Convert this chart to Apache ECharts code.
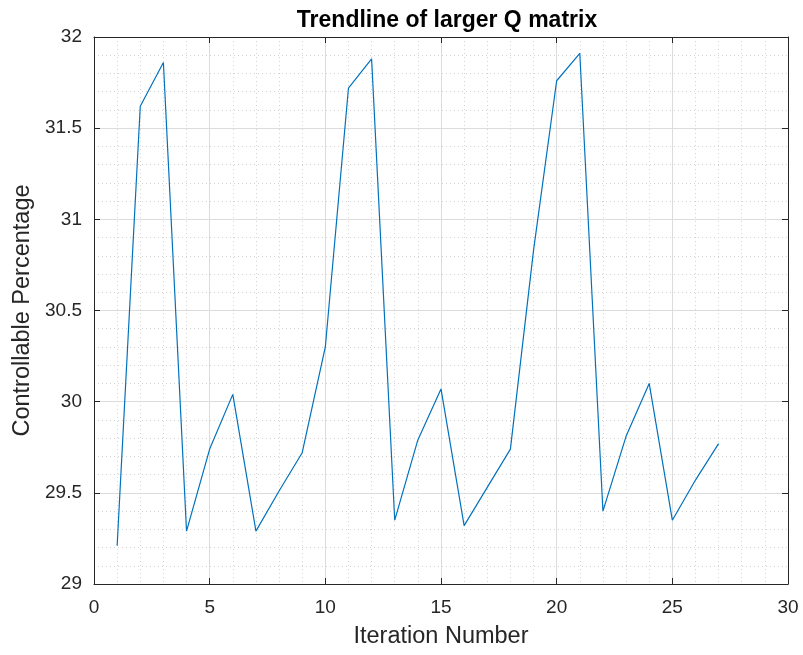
<!DOCTYPE html>
<html>
<head>
<meta charset="utf-8">
<script src="https://cdn.jsdelivr.net/npm/echarts@6/dist/echarts.min.js"></script>
<style>
  html, body { margin: 0; padding: 0; background: #fff; }
  #chart { width: 803px; height: 655px; }
</style>
</head>
<body>
<div id="chart"></div>
<script>
// Iteration numbers and the controllable percentage measured at each step
const iterations = [1, 2, 3, 4, 5, 6, 7, 8, 9, 10, 11, 12, 13, 14, 15, 16, 17, 18, 19, 20, 21, 22, 23, 24, 25, 26, 27];
const controllable = [29.21, 31.62, 31.86, 29.29, 29.74, 30.04, 29.29, 29.51, 29.72, 30.30,
                      31.72, 31.88, 29.35, 29.79, 30.07, 29.32, 29.53, 29.74, 30.83, 31.76,
                      31.91, 29.40, 29.81, 30.10, 29.35, 29.57, 29.77];

const chartTitle = 'Trendline of larger Q matrix';
const xName = 'Iteration Number';
const yName = 'Controllable Percentage';

const FONT = '"Liberation Sans", Arial, Helvetica, sans-serif';
const AXIS_COLOR = '#262626';

const points = iterations.map((it, i) => [it, controllable[i]]);

const chart = echarts.init(document.getElementById('chart'), null, { renderer: 'canvas' });

const baseX = {
  type: 'value', min: 0, max: 30, interval: 5,
  axisLine: { show: true, onZero: false, lineStyle: { color: AXIS_COLOR, width: 1 } },
  axisTick: { show: true, inside: true, length: 6, lineStyle: { color: AXIS_COLOR } },
};
const baseY = {
  type: 'value', min: 29, max: 32, interval: 0.5,
  axisLine: { show: true, onZero: false, lineStyle: { color: AXIS_COLOR, width: 1 } },
  axisTick: { show: true, inside: true, length: 6, lineStyle: { color: AXIS_COLOR } },
};

chart.setOption({
  animation: false,
  backgroundColor: '#ffffff',
  title: {
    text: chartTitle,
    left: 442, top: 4, textAlign: 'center',
    textStyle: { fontFamily: FONT, fontSize: 23, fontWeight: 'bold', color: '#000' }
  },
  grid: { left: 94, right: 15, top: 37, bottom: 71, containLabel: false },
  xAxis: [
    Object.assign({}, baseX, {
      position: 'bottom',
      name: xName, nameLocation: 'middle', nameGap: 41,
      nameTextStyle: { fontFamily: FONT, fontSize: 23.5, color: AXIS_COLOR },
      axisLabel: { fontFamily: FONT, fontSize: 19, color: AXIS_COLOR, margin: 14 },
      splitLine: { show: true, lineStyle: { color: '#dcdcdc', width: 1 } },
      minorTick: { show: false, splitNumber: 5 },
      minorSplitLine: { show: true, lineStyle: { color: '#d4d4d4', width: 1, type: [1, 3] } }
    }),
    Object.assign({}, baseX, {
      position: 'top',
      axisLabel: { show: false },
      splitLine: { show: false }
    })
  ],
  yAxis: [
    Object.assign({}, baseY, {
      position: 'left',
      name: yName, nameLocation: 'middle', nameGap: 59,
      nameTextStyle: { fontFamily: FONT, fontSize: 23.5, color: AXIS_COLOR },
      axisLabel: {
        fontFamily: FONT, fontSize: 19, color: AXIS_COLOR, margin: 12,
        formatter: v => String(Math.round(v * 10) / 10)
      },
      splitLine: { show: true, lineStyle: { color: '#dcdcdc', width: 1 } },
      minorTick: { show: false, splitNumber: 5 },
      minorSplitLine: { show: true, lineStyle: { color: '#d4d4d4', width: 1, type: [1, 3] } }
    }),
    Object.assign({}, baseY, {
      position: 'right',
      axisLabel: { show: false },
      splitLine: { show: false }
    })
  ],
  series: [{
    type: 'line',
    data: points,
    xAxisIndex: 0, yAxisIndex: 0,
    showSymbol: false,
    lineStyle: { color: '#0072BD', width: 1.2 },
    itemStyle: { color: '#0072BD' },
    z: 5
  }]
});
</script>
</body>
</html>
